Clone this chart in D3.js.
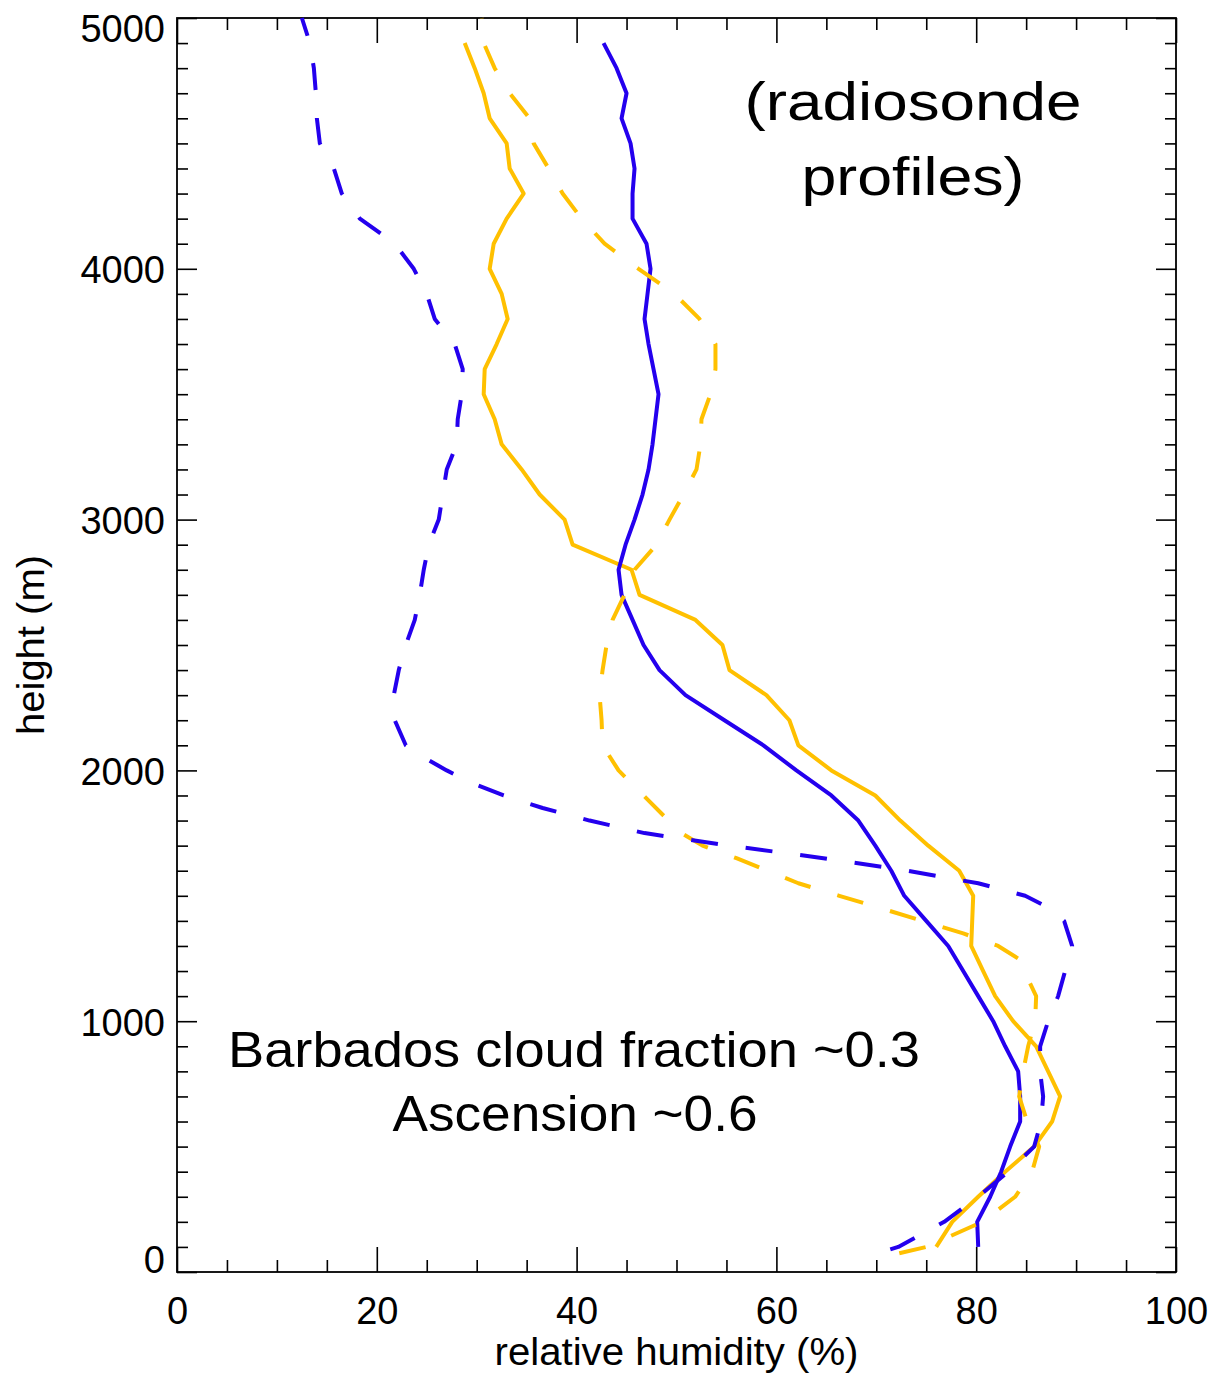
<!DOCTYPE html>
<html><head><meta charset="utf-8">
<script src="https://cdn.jsdelivr.net/npm/d3@7"></script>
<style>body{margin:0;background:#fff} svg{display:block}</style>
</head><body><svg id="c" width="1219" height="1376"></svg>
<script>
// ---- data (height in m, relative humidity in %) ----
const solidLevels = [100,200,300,400,500,600,700,800,900,1000,1100,1200,1300,1400,1500,1600,1700,1800,1900,2000,2100,2200,2300,2400,2500,2600,2700,2800,2900,3000,3100,3200,3300,3400,3500,3600,3700,3800,3900,4000,4100,4200,4300,4400,4500,4600,4700,4800,4900];
const blueSolidRH = [80.2,80.1,81.4,82.5,83.4,84.4,84.4,84.2,82.9,81.7,80.2,78.7,77.2,75.0,72.8,71.5,69.9,68.2,65.5,62.0,58.7,54.8,50.9,48.3,46.7,45.6,44.5,44.2,44.9,45.8,46.6,47.2,47.6,47.9,48.2,47.7,47.2,46.8,47.1,47.4,47.0,45.6,45.6,45.8,45.4,44.5,45.0,44.0,42.7];
const yellowSolidRH = [76.0,77.6,80.2,82.9,85.8,87.6,88.4,87.2,86.0,83.7,81.9,80.7,79.5,79.6,79.7,78.3,75.2,72.4,69.9,65.5,62.2,61.3,59.0,55.3,54.6,51.9,46.3,45.5,39.6,38.8,36.3,34.5,32.5,31.8,30.7,30.8,32.0,33.1,32.5,31.3,31.7,33.0,34.7,33.3,33.0,31.3,30.7,29.8,28.8];

const blueDashedLevels = [90,100,200,300,400,500,600,700,800,900,1000,1100,1200,1300,1400,1450,1500,1550,1600,1650,1700,1750,1800,1850,1900,1950,2000,2050,2100,2200,2300,2400,2500,2600,2700,2800,2900,3000,3100,3200,3300,3400,3500,3600,3700,3800,3900,4000,4100,4200,4300,4400,4500,4600,4700,4800,4900,5000];
const blueDashedRH = [71.4,72.2,76.8,80.2,83.2,85.8,86.5,86.7,86.4,86.4,87.2,88.2,88.9,89.6,88.8,87.4,84.9,80.2,73.1,64.7,55.3,46.8,41.3,36.6,32.7,29.5,27.0,24.8,22.9,21.8,21.7,22.2,22.9,23.8,24.3,24.7,25.2,26.2,26.6,27.0,28.0,28.1,28.5,28.6,27.8,25.8,25.0,23.7,21.8,18.3,16.5,15.7,14.3,14.0,13.9,13.7,13.3,12.5];

const yellowDashedLevels = [75,100,200,300,400,500,600,700,800,900,1000,1100,1200,1250,1300,1350,1400,1450,1500,1550,1600,1650,1700,1750,1800,1900,2000,2100,2200,2300,2400,2500,2600,2700,2800,2900,3000,3100,3200,3300,3400,3500,3600,3700,3800,3900,4000,4100,4200,4300,4400,4500,4600,4700,4800,4900,5000];
const yellowDashedRH = [72.3,75.0,80.6,83.9,85.6,86.3,85.1,84.3,84.7,85.2,85.9,86.0,84.8,84.2,82.2,78.7,74.6,70.5,66.3,62.2,59.1,56.0,52.6,50.5,49.2,46.7,44.2,42.6,42.5,42.3,42.6,43.0,43.6,44.8,45.8,48.0,49.3,50.7,52.0,52.4,52.5,53.4,53.9,53.9,52.3,49.8,46.2,42.8,40.5,38.6,37.2,35.7,35.3,33.3,31.8,30.7,30.5];

const xMajorTicks = [0,20,40,60,80,100];
const yMajorTicks = [0,1000,2000,3000,4000,5000];
const annotationLines = ["Barbados cloud fraction ~0.3", "Ascension ~0.6"];
const titleLines = ["(radiosonde", "profiles)"];

// ---- layout ----
const W = 1219, H = 1376;
const L = 177, R = 1176, T = 18, B = 1272;
const BLUE = "#2400ee", YELLOW = "#ffc000";
const FONT = "'Liberation Sans', Arial, Helvetica, sans-serif";

const svg = d3.select("#c");
const x = d3.scaleLinear().domain([0,100]).range([L,R]);
const y = d3.scaleLinear().domain([0,5000]).range([B,T]);

const xMinor = d3.range(0,101,5).filter(v => v % 20 !== 0);
const yMinor = d3.range(0,5001,100).filter(v => v % 1000 !== 0);

function styleAxis(g){
  g.select(".domain").remove();
  g.selectAll(".tick line").attr("stroke","#000").attr("stroke-width",1.6);
  g.selectAll("text").attr("font-family",FONT).attr("font-size",38).attr("fill","#000");
}

// bottom
svg.append("g").attr("transform",`translate(0,${B})`)
  .call(d3.axisBottom(x).tickValues(xMajorTicks).tickSize(-25).tickPadding(25).tickFormat(d3.format("d")))
  .call(styleAxis);
svg.append("g").attr("transform",`translate(0,${B})`)
  .call(d3.axisBottom(x).tickValues(xMinor).tickSize(-12).tickFormat(""))
  .call(styleAxis);
// top
svg.append("g").attr("transform",`translate(0,${T})`)
  .call(d3.axisTop(x).tickValues(xMajorTicks).tickSize(-25).tickFormat(""))
  .call(styleAxis);
svg.append("g").attr("transform",`translate(0,${T})`)
  .call(d3.axisTop(x).tickValues(xMinor).tickSize(-12).tickFormat(""))
  .call(styleAxis);
// left
const gl = svg.append("g").attr("transform",`translate(${L},0)`)
  .call(d3.axisLeft(y).tickValues(yMajorTicks).tickSize(-20).tickPadding(12).tickFormat(d3.format("d")))
  .call(styleAxis);
gl.selectAll(".tick text").attr("dy", d => d === 5000 ? "0.62em" : (d === 0 ? "0em" : "0.37em"));
svg.append("g").attr("transform",`translate(${L},0)`)
  .call(d3.axisLeft(y).tickValues(yMinor).tickSize(-11).tickFormat(""))
  .call(styleAxis);
// right
svg.append("g").attr("transform",`translate(${R},0)`)
  .call(d3.axisRight(y).tickValues(yMajorTicks).tickSize(-20).tickFormat(""))
  .call(styleAxis);
svg.append("g").attr("transform",`translate(${R},0)`)
  .call(d3.axisRight(y).tickValues(yMinor).tickSize(-11).tickFormat(""))
  .call(styleAxis);

// frame
svg.append("rect").attr("x",L).attr("y",T).attr("width",R-L).attr("height",B-T)
  .attr("fill","none").attr("stroke","#000").attr("stroke-width",1.8);

// lines
const line = d3.line().x(d => x(d[1])).y(d => y(d[0]));
const series = [
  {lv: solidLevels, rh: yellowSolidRH, color: YELLOW, dash: null},
  {lv: solidLevels, rh: blueSolidRH, color: BLUE, dash: null},
  {lv: yellowDashedLevels, rh: yellowDashedRH, color: YELLOW, dash: "27,28"},
  {lv: blueDashedLevels, rh: blueDashedRH, color: BLUE, dash: "27,28"},
];
series.forEach(s => {
  svg.append("path").datum(s.lv.map((h,i) => [h, s.rh[i]]))
    .attr("d", line).attr("fill","none").attr("stroke", s.color)
    .attr("stroke-width",4).attr("stroke-linejoin","round")
    .attr("stroke-dasharray", s.dash);
});

// annotations
function txt(str, cx, by, size, len){
  svg.append("text").attr("x",cx).attr("y",by).attr("text-anchor","middle")
    .attr("font-family",FONT).attr("font-size",size).attr("fill","#000")
    .attr("textLength",len).attr("lengthAdjust","spacingAndGlyphs").text(str);
}
txt(titleLines[0], 913, 120, 54, 337);
txt(titleLines[1], 913, 195, 54, 223);
txt(annotationLines[0], 574, 1067, 50, 692);
txt(annotationLines[1], 575, 1131, 50, 365);

// axis titles
svg.append("text").attr("x",(L+R)/2).attr("y",1365).attr("text-anchor","middle")
  .attr("font-family",FONT).attr("font-size",38).attr("fill","#000")
  .attr("textLength",364).attr("lengthAdjust","spacingAndGlyphs")
  .text("relative humidity (%)");
svg.append("text").attr("transform",`translate(44,${(T+B)/2}) rotate(-90)`)
  .attr("text-anchor","middle")
  .attr("font-family",FONT).attr("font-size",38).attr("fill","#000")
  .attr("textLength",180).attr("lengthAdjust","spacingAndGlyphs")
  .text("height (m)");
</script></body></html>
